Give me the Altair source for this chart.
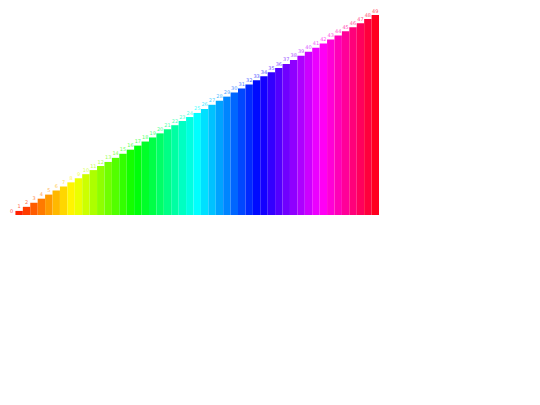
import altair as alt
import pandas as pd

values = [0, 1, 2, 3, 4, 5, 6, 7, 8, 9, 10, 11, 12, 13, 14, 15, 16, 17, 18, 19,
          20, 21, 22, 23, 24, 25, 26, 27, 28, 29, 30, 31, 32, 33, 34, 35, 36, 37, 38, 39,
          40, 41, 42, 43, 44, 45, 46, 47, 48, 49]
labels = [str(v) for v in values]
colors = [f"hsl({i * 360 / len(values):.1f}, 100%, 50%)" for i in range(len(values))]

df = pd.DataFrame({"label": labels, "value": values})

x = alt.X("label:N", sort=labels, axis=None,
          scale=alt.Scale(paddingInner=0, paddingOuter=0))
y = alt.Y("value:Q", axis=None, scale=alt.Scale(domain=[0, 49], nice=False))
color = alt.Color("label:N", sort=labels, legend=None,
                  scale=alt.Scale(domain=labels, range=colors))

bars = alt.Chart(df).mark_bar().encode(x=x, y=y, color=color)
text = alt.Chart(df).mark_text(dy=-1.5, fontSize=5, baseline="bottom",
                               font="DejaVu Sans", opacity=0.7).encode(
    x=x, y=y, text="label:N", color=color)

chart = (bars + text).properties(
    width=371, height=200,
    autosize=alt.AutoSizeParams(type="none"),
    padding={"left": 0, "top": 7, "right": 0, "bottom": 0},
).configure_view(stroke=None)

chart.save("out.html", embed_options={"renderer": "svg", "actions": False})
